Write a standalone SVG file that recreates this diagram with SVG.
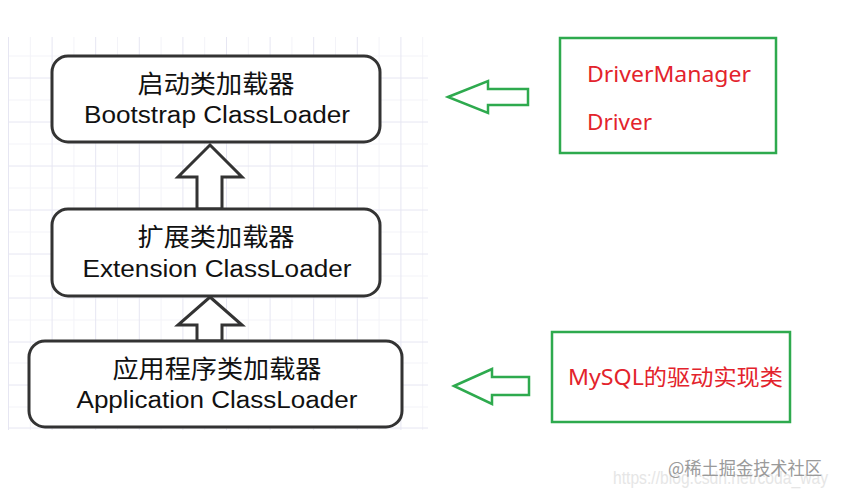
<svg xmlns="http://www.w3.org/2000/svg" width="841" height="494" viewBox="0 0 841 494">
<style>
.grid line{stroke:#e6e6f2;stroke-width:1}
.gridm line{stroke:#f3f3f8;stroke-width:1}
.node rect{fill:#fff;stroke:#333;stroke-width:3}
.cn{font-family:"Noto Sans CJK SC","Noto Sans",sans-serif;font-size:25px;fill:#111}
.en{font-family:"Liberation Sans",Arial,sans-serif;font-size:23px;fill:#111}
.up{fill:#fff;stroke:#333;stroke-width:3;stroke-linejoin:miter}
.gbox{fill:#fff;stroke:#2eaa4e;stroke-width:2.5}
.garrow{fill:#fff;stroke:#2eaa4e;stroke-width:2.5;stroke-linejoin:miter}
.red{font-family:"Noto Sans","Noto Sans CJK SC",sans-serif;font-size:22px;fill:#e3232c}
.wm{font-family:"Noto Sans CJK SC","Noto Sans",sans-serif;font-size:18px;fill:#9a9a9a}
.url{font-family:"Liberation Sans",Arial,sans-serif;font-size:19px;fill:#e6e6e6}
</style>
<rect width="841" height="494" fill="#fff"/>
<g id="grid">
<g class="gridm">
<line x1="30.3" y1="37" x2="30.3" y2="430"/><line x1="73.9" y1="37" x2="73.9" y2="430"/><line x1="117.5" y1="37" x2="117.5" y2="430"/><line x1="161.1" y1="37" x2="161.1" y2="430"/><line x1="204.7" y1="37" x2="204.7" y2="430"/><line x1="248.3" y1="37" x2="248.3" y2="430"/><line x1="291.9" y1="37" x2="291.9" y2="430"/><line x1="335.5" y1="37" x2="335.5" y2="430"/><line x1="379.1" y1="37" x2="379.1" y2="430"/><line x1="422.7" y1="37" x2="422.7" y2="430"/>
<line x1="8" y1="56" x2="428" y2="56"/><line x1="8" y1="100" x2="428" y2="100"/><line x1="8" y1="144" x2="428" y2="144"/><line x1="8" y1="188" x2="428" y2="188"/><line x1="8" y1="232" x2="428" y2="232"/><line x1="8" y1="276" x2="428" y2="276"/><line x1="8" y1="320" x2="428" y2="320"/><line x1="8" y1="363" x2="428" y2="363"/><line x1="8" y1="407" x2="428" y2="407"/>
</g>
<g class="grid">
<line x1="8.5" y1="37" x2="8.5" y2="430"/><line x1="52.1" y1="37" x2="52.1" y2="430"/><line x1="95.7" y1="37" x2="95.7" y2="430"/><line x1="139.3" y1="37" x2="139.3" y2="430"/><line x1="182.9" y1="37" x2="182.9" y2="430"/><line x1="226.5" y1="37" x2="226.5" y2="430"/><line x1="270.1" y1="37" x2="270.1" y2="430"/><line x1="313.7" y1="37" x2="313.7" y2="430"/><line x1="357.3" y1="37" x2="357.3" y2="430"/><line x1="400.9" y1="37" x2="400.9" y2="430"/>
<line x1="8" y1="78" x2="428" y2="78"/><line x1="8" y1="122" x2="428" y2="122"/><line x1="8" y1="166" x2="428" y2="166"/><line x1="8" y1="210" x2="428" y2="210"/><line x1="8" y1="254" x2="428" y2="254"/><line x1="8" y1="298" x2="428" y2="298"/><line x1="8" y1="342" x2="428" y2="342"/><line x1="8" y1="385" x2="428" y2="385"/><line x1="8" y1="428" x2="428" y2="428"/>
</g>
</g>
<g id="connectors">
<polygon class="up" points="210,145 242,177 222,177 222,209 197,209 197,177 178,177"/>
<polygon class="up" points="210,297 242,325 222,325 222,341 197,341 197,325 178,325"/>
<polygon class="garrow" points="448,97 488,81 488,89 528,89 528,105 488,105 488,113"/>
<polygon class="garrow" points="454,386 492,369 492,377 529,377 529,395 492,395 492,404"/>
</g>
<g id="bootstrap" class="node">
<rect x="52" y="56" width="328" height="86" rx="16"/>
<text class="cn" x="216" y="93" text-anchor="middle" textLength="157" lengthAdjust="spacingAndGlyphs">启动类加载器</text>
<text class="en" x="217" y="123" text-anchor="middle" textLength="266" lengthAdjust="spacingAndGlyphs">Bootstrap ClassLoader</text>
</g>
<g id="extension" class="node">
<rect x="52" y="209" width="328" height="87" rx="16"/>
<text class="cn" x="216" y="246" text-anchor="middle" textLength="157" lengthAdjust="spacingAndGlyphs">扩展类加载器</text>
<text class="en" x="217" y="277" text-anchor="middle" textLength="269" lengthAdjust="spacingAndGlyphs">Extension ClassLoader</text>
</g>
<g id="application" class="node">
<rect x="29" y="341" width="373" height="86" rx="16"/>
<text class="cn" x="217" y="378" text-anchor="middle" textLength="209" lengthAdjust="spacingAndGlyphs">应用程序类加载器</text>
<text class="en" x="217" y="408" text-anchor="middle" textLength="281" lengthAdjust="spacingAndGlyphs">Application ClassLoader</text>
</g>
<g id="drivers">
<rect class="gbox" x="560" y="38" width="216" height="115"/>
<text class="red" x="587" y="82" textLength="164" lengthAdjust="spacingAndGlyphs">DriverManager</text>
<text class="red" x="587" y="130" textLength="65" lengthAdjust="spacingAndGlyphs">Driver</text>
</g>
<g id="mysql">
<rect class="gbox" x="552" y="332" width="238" height="90"/>
<text class="red" x="568" y="385" textLength="215" lengthAdjust="spacingAndGlyphs">MySQL的驱动实现类</text>
</g>
<g id="watermark">
<text class="url" x="613" y="484" textLength="215" lengthAdjust="spacingAndGlyphs">https://blog.csdn.net/coda_way</text>
<text class="wm" x="668" y="475" textLength="154" lengthAdjust="spacingAndGlyphs">@稀土掘金技术社区</text>
</g>
</svg>
